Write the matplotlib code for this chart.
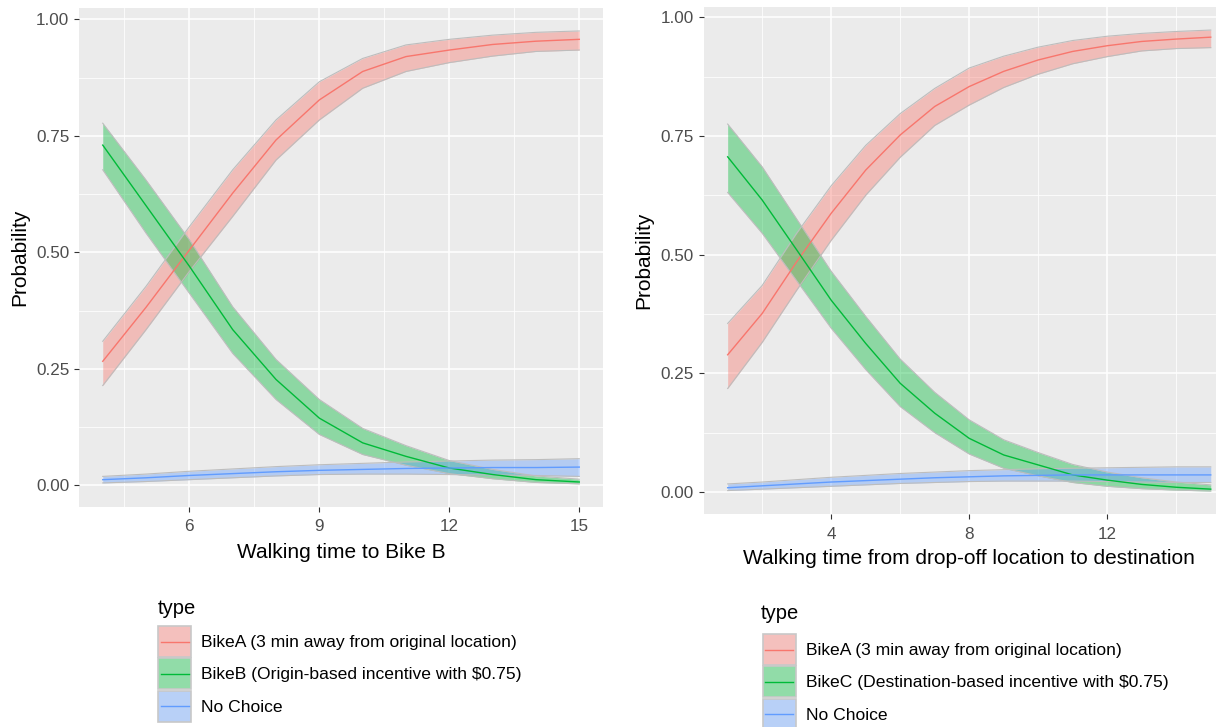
import matplotlib
matplotlib.use("Agg")
import matplotlib.pyplot as plt
import numpy as np
from matplotlib.patches import Rectangle
from matplotlib.lines import Line2D
from matplotlib.colors import to_rgb

plt.rcParams['font.family'] = ['Liberation Sans', 'DejaVu Sans']

# ---- data ----
# left panel: walking time to Bike B
left_x = [4, 5, 6, 7, 8, 9, 10, 11, 12, 13, 14, 15]
left_a = [0.266, 0.382, 0.505, 0.627, 0.741, 0.827, 0.888, 0.920, 0.934, 0.946, 0.953, 0.957]
left_a_lo = [0.214, 0.334, 0.459, 0.577, 0.698, 0.784, 0.852, 0.888, 0.907, 0.921, 0.931, 0.934]
left_a_hi = [0.309, 0.427, 0.555, 0.677, 0.784, 0.866, 0.916, 0.945, 0.957, 0.966, 0.972, 0.975]
left_b = [0.730, 0.600, 0.470, 0.334, 0.227, 0.144, 0.091, 0.062, 0.037, 0.023, 0.012, 0.007]
left_b_lo = [0.677, 0.541, 0.412, 0.283, 0.184, 0.109, 0.066, 0.043, 0.025, 0.014, 0.006, 0.003]
left_b_hi = [0.777, 0.655, 0.527, 0.383, 0.270, 0.184, 0.122, 0.085, 0.053, 0.034, 0.020, 0.013]
left_n = [0.012, 0.016, 0.021, 0.025, 0.029, 0.032, 0.034, 0.036, 0.037, 0.038, 0.038, 0.039]
left_n_lo = [0.005, 0.008, 0.012, 0.016, 0.020, 0.023, 0.024, 0.024, 0.023, 0.022, 0.021, 0.019]
left_n_hi = [0.019, 0.024, 0.030, 0.035, 0.040, 0.044, 0.047, 0.050, 0.052, 0.054, 0.055, 0.057]

# right panel: walking time from drop-off location to destination
right_x = [1, 2, 3, 4, 5, 6, 7, 8, 9, 10, 11, 12, 13, 14, 15]
right_a = [0.289, 0.376, 0.485, 0.587, 0.678, 0.752, 0.812, 0.854, 0.886, 0.910, 0.928, 0.940, 0.949, 0.954, 0.958]
right_a_lo = [0.218, 0.315, 0.425, 0.530, 0.625, 0.705, 0.772, 0.815, 0.852, 0.880, 0.902, 0.917, 0.929, 0.934, 0.936]
right_a_hi = [0.355, 0.435, 0.545, 0.645, 0.730, 0.797, 0.850, 0.893, 0.918, 0.937, 0.951, 0.960, 0.966, 0.970, 0.973]
right_c = [0.706, 0.615, 0.510, 0.404, 0.313, 0.229, 0.166, 0.113, 0.078, 0.057, 0.036, 0.025, 0.016, 0.010, 0.006]
right_c_lo = [0.631, 0.545, 0.445, 0.345, 0.258, 0.180, 0.125, 0.080, 0.050, 0.034, 0.020, 0.012, 0.007, 0.004, 0.002]
right_c_hi = [0.775, 0.685, 0.575, 0.465, 0.370, 0.280, 0.210, 0.152, 0.110, 0.083, 0.058, 0.042, 0.030, 0.021, 0.015]
right_n = [0.009, 0.013, 0.017, 0.021, 0.024, 0.027, 0.030, 0.032, 0.034, 0.035, 0.036, 0.036, 0.036, 0.036, 0.036]
right_n_lo = [0.003, 0.006, 0.009, 0.012, 0.015, 0.018, 0.020, 0.022, 0.023, 0.023, 0.023, 0.022, 0.021, 0.020, 0.020]
right_n_hi = [0.017, 0.021, 0.026, 0.031, 0.035, 0.039, 0.042, 0.045, 0.047, 0.049, 0.050, 0.051, 0.052, 0.053, 0.053]

left_labels = ['BikeA (3 min away from original location)',
               r'BikeB (Origin-based incentive with \$0.75)',
               'No Choice']
right_labels = ['BikeA (3 min away from original location)',
                r'BikeC (Destination-based incentive with \$0.75)',
                'No Choice']
colors = ['#F8766D', '#00BA38', '#619CFF']
y_ticks = [0, 0.25, 0.5, 0.75, 1.0]
y_ticklabels = ['0.00', '0.25', '0.50', '0.75', '1.00']

W, H = 1216, 727
fig = plt.figure(figsize=(W / 100, H / 100), dpi=100)
ax1 = fig.add_axes([0.06489, 0.30330, 0.43109, 0.68528])
ax2 = fig.add_axes([0.57854, 0.29285, 0.43701, 0.69752])


def draw_panel(ax, x, series, xlabel, xmajor, xminor):
    ax.set_facecolor('#EBEBEB')
    for (mid, lo, hi), c in zip(series, colors):
        ax.fill_between(x, lo, hi, color=c, alpha=0.4, linewidth=0, zorder=2)
        ax.plot(x, lo, color='#BDBDBD', lw=0.8, zorder=2.1)
        ax.plot(x, hi, color='#BDBDBD', lw=0.8, zorder=2.1)
    for (mid, lo, hi), c in zip(series, colors):
        ax.plot(x, mid, color=c, lw=1.0, zorder=3)
    xmin, xmax = min(x), max(x)
    pad = 0.05 * (xmax - xmin)
    ax.set_xlim(xmin - pad, xmax + pad)
    ylo = min(min(s[1]) for s in series)
    yhi = max(max(s[2]) for s in series)
    pad = 0.05 * (yhi - ylo)
    ax.set_ylim(ylo - pad, yhi + pad)
    ax.set_xticks(xmajor)
    ax.set_xticks(xminor, minor=True)
    ax.set_yticks(y_ticks)
    ax.set_yticklabels(y_ticklabels)
    ax.set_yticks([0.125, 0.375, 0.625, 0.875], minor=True)
    ax.grid(which='major', color='white', lw=1.1, zorder=0)
    ax.grid(which='minor', color='white', lw=0.55, zorder=0)
    ax.set_axisbelow(True)
    for s in ax.spines.values():
        s.set_visible(False)
    ax.tick_params(which='major', length=3.6, width=0.8, color='#333333',
                   labelsize=12.3, labelcolor='#4D4D4D', pad=3.2)
    ax.tick_params(axis='x', which='major', pad=5.7)
    ax.tick_params(which='minor', length=0)
    ax.set_xlabel(xlabel, fontsize=15, color='black')
    ax.set_ylabel('Probability', fontsize=15, color='black')


draw_panel(ax1, left_x,
           [(left_a, left_a_lo, left_a_hi),
            (left_b, left_b_lo, left_b_hi),
            (left_n, left_n_lo, left_n_hi)],
           'Walking time to Bike B', [6, 9, 12, 15], [4.5, 7.5, 10.5, 13.5])
draw_panel(ax2, right_x,
           [(right_a, right_a_lo, right_a_hi),
            (right_c, right_c_lo, right_c_hi),
            (right_n, right_n_lo, right_n_hi)],
           'Walking time from drop-off location to destination',
           [4, 8, 12], [2, 6, 10, 14])

ax1.xaxis.set_label_coords(0.5, -0.073)
ax1.yaxis.set_label_coords(-0.095, 0.5)
ax2.xaxis.set_label_coords(0.5, -0.069)
ax2.yaxis.set_label_coords(-0.094, 0.5)

grey95 = np.array(to_rgb('#F2F2F2'))


class KeyHandler:
    # ggplot-like key: filled square with a centred horizontal line
    def legend_artist(self, legend, orig_handle, fontsize, handlebox):
        face, color = orig_handle
        x0, y0 = -handlebox.xdescent, -handlebox.ydescent
        w, h = handlebox.width, handlebox.height
        tr = handlebox.get_transform()
        rect = Rectangle((x0, y0), w, h, facecolor=face, edgecolor='#C8C8C8',
                         lw=1.2, transform=tr)
        line = Line2D([x0 + 2, x0 + w - 2], [y0 + h / 2, y0 + h / 2],
                      color=color, lw=1.0, transform=tr)
        handlebox.add_artist(rect)
        handlebox.add_artist(line)
        return rect


def legend_handles():
    return [(tuple(0.4 * np.array(to_rgb(c)) + 0.6 * grey95), c) for c in colors]


# legend: title as text, keys + labels as a legend below it
for labels, title_xy, key_xy in [
        (left_labels, (157.3, 614), (158.3, 626)),
        (right_labels, (760.7, 619), (762.7, 634))]:
    fig.text(title_xy[0] / W, 1 - title_xy[1] / H, 'type', fontsize=14.5,
             ha='left', va='baseline')
    fig.legend(legend_handles(), labels, loc='upper left',
               bbox_to_anchor=(key_xy[0] / W, 1 - key_xy[1] / H),
               handler_map={tuple: KeyHandler()},
               frameon=False, fontsize=12.6, handlelength=1.89,
               handleheight=2.35, labelspacing=0.075, handletextpad=0.57,
               borderpad=0, borderaxespad=0)

fig.savefig('out.png', dpi=100)
